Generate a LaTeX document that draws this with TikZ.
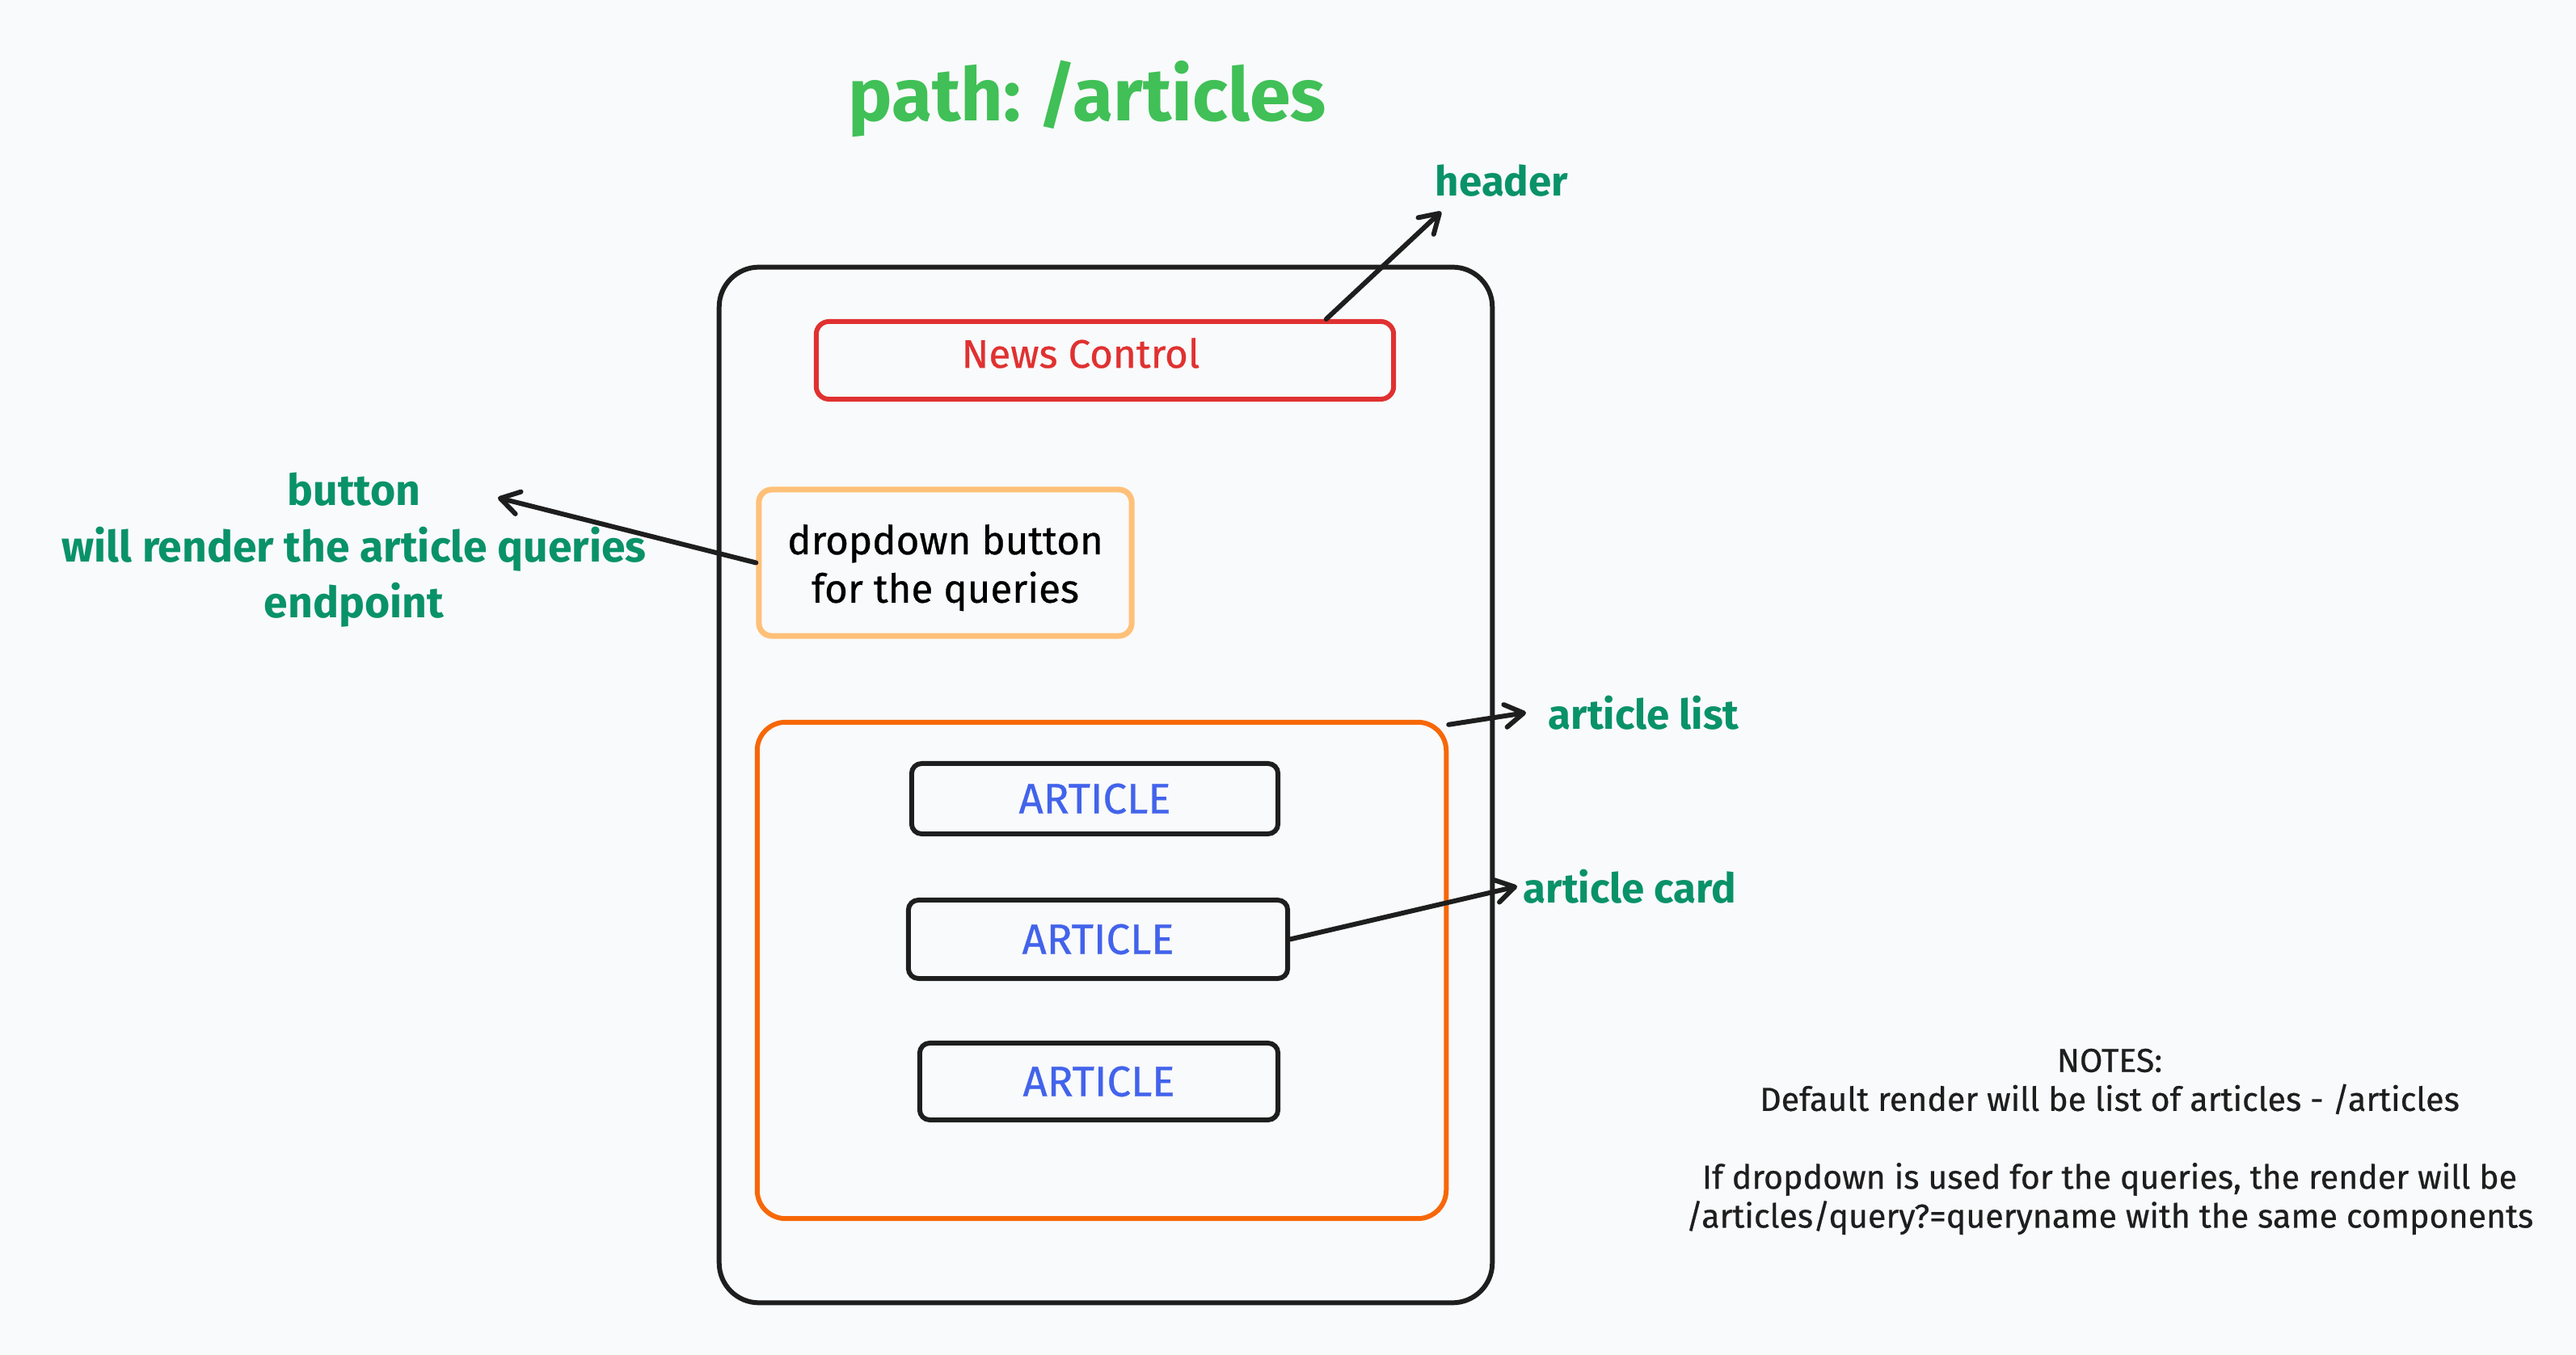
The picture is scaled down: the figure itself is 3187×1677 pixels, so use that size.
\documentclass[tikz,border=0pt]{standalone}
\usepackage{fontspec}
\setmainfont{Fira Sans}
\newfontfamily\medfont[FakeBold=0.6]{Fira Sans}
\usetikzlibrary{arrows.meta,calc}
\definecolor{bg}{HTML}{F9FAFB}
\definecolor{ink}{HTML}{1E1E1E}
\definecolor{titlegreen}{HTML}{40C057}
\definecolor{labelgreen}{HTML}{099268}
\definecolor{redc}{HTML}{E03131}
\definecolor{lightorange}{HTML}{FFC078}
\definecolor{orangec}{HTML}{F76707}
\definecolor{bluec}{HTML}{4263EB}
\tikzset{
  x=0.01cm, y=-0.01cm,
  boxbase/.style={draw, line width=1.7pt, inner sep=0pt, align=center},
  phonebox/.style={boxbase, draw=ink, rounded corners=14pt},
  newsbox/.style={boxbase, draw=redc, rounded corners=4.5pt},
  newstextstyle/.style={text=redc, font=\medfont\fontsize{14}{17}\selectfont, inner sep=0pt},
  dropbox/.style={boxbase, draw=lightorange, line width=2pt, rounded corners=4.5pt, text=black, font=\medfont\fontsize{14}{17}\selectfont},
  listbox/.style={boxbase, draw=orangec, rounded corners=10pt},
  artbox/.style={boxbase, draw=ink, rounded corners=3.5pt, text=bluec, font=\medfont\fontsize{15}{17}\selectfont},
  glabel/.style={text=labelgreen, font=\bfseries\fontsize{14.5}{19.5}\selectfont, align=center, inner sep=2pt},
  notes/.style={text=ink, font=\medfont\fontsize{11.7}{13.7}\selectfont, align=center},
  arr/.style={draw=ink, line width=1.7pt, line cap=round, -{Straight Barb[length=6.5pt, width=8pt, line cap=round, line join=round]}},
}
\begin{document}
\begin{tikzpicture}
\useasboundingbox (0,0) rectangle (3187,1677);
\fill[bg] (0,0) rectangle (3187,1677);

\node[text=titlegreen, font=\bfseries\fontsize{26}{30}\selectfont] (title) at (1345,122) {\frenchspacing path: /articles};

\node[phonebox, minimum width=9.56cm, minimum height=12.81cm] (phone) at (1368,971.5) {};
\node[newsbox, minimum width=7.14cm, minimum height=0.96cm] (news) at (1367,446) {};
\node[newstextstyle] (newstext) at (1337,437) {News Control};
\node[dropbox, minimum width=4.61cm, minimum height=1.81cm] (drop) at (1169.5,696.5) {\rule{0pt}{14pt}dropdown button\\for the queries};
\node[listbox, minimum width=8.52cm, minimum height=6.14cm] (list) at (1363,1201) {};
\node[artbox, minimum width=4.53cm, minimum height=0.87cm] (art1) at (1354.5,988.5) {ARTICLE};
\node[artbox, minimum width=4.69cm, minimum height=0.97cm] (art2) at (1358.5,1162.5) {ARTICLE};
\node[artbox, minimum width=4.43cm, minimum height=0.95cm] (art3) at (1359.5,1338.5) {ARTICLE};

\node[glabel] (header) at (1858,224) {header};
\node[glabel, font=\bfseries\fontsize{15.2}{19.8}\selectfont] (btnlbl) at (438,681) {button\\will render the article queries\\endpoint};
\node[glabel, anchor=west] (listlbl) at (1908,882) {article list};
\node[glabel, anchor=west] (cardlbl) at (1877,1097) {article card};

\node[notes] (notes) at (2610,1413) {NOTES:\\Default render will be list of articles - /articles\\[13.7pt]If dropdown is used for the queries, the render will be\\/articles/query?=queryname with the same components};

\coordinate (hdrstart) at ($(news.north west)!0.88!(news.north east)$);
\coordinate (hdrtip) at (1783,262);
\coordinate (btntip) at (616,616);
\coordinate (liststart) at ([yshift=-0.06cm]list.north east);

\draw[arr] (hdrstart) -- (hdrtip);
\draw[arr] (drop.west) -- (btntip);
\draw[arr] (liststart) -- ([xshift=-0.2cm]listlbl.west);
\draw[arr] (art2.east) -- (cardlbl.west);
\end{tikzpicture}
\end{document}
